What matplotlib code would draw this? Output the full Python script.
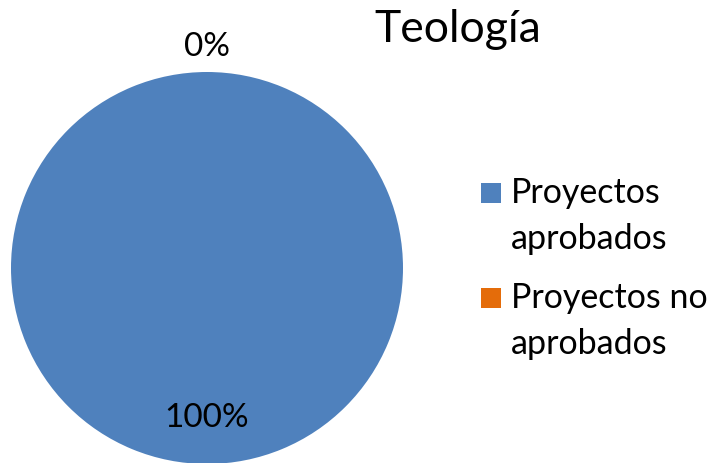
import matplotlib
matplotlib.use("Agg")
import matplotlib.pyplot as plt
from matplotlib.patches import Rectangle
import numpy as np

categories = ["Proyectos aprobados", "Proyectos no aprobados"]
legend_labels = ["Proyectos\naprobados", "Proyectos no\naprobados"]
values = [100, 0]
pct_labels = ["100%", "0%"]
colors = ["#4F81BD", "#E46C0A"]
title = "Teología"

plt.rcParams['font.family'] = ['Lato', 'DejaVu Sans']

W, H = 711, 463
fig = plt.figure(figsize=(W / 100, H / 100), dpi=100)
fig.patch.set_facecolor("white")

cx, cy, r = 207, 268, 196
ax = fig.add_axes([(cx - r) / W, (H - cy - r) / H, 2 * r / W, 2 * r / H])
ax.pie(values, colors=colors, startangle=90, counterclock=False, radius=1,
       wedgeprops=dict(linewidth=0))
ax.set_xlim(-1, 1)
ax.set_ylim(-1, 1)
ax.set_aspect("equal")
ax.axis("off")

total = sum(values)
start = 90.0
for v, lab in zip(values, pct_labels):
    sweep = 360.0 * v / total
    mid = np.deg2rad(start - sweep / 2)
    rad = 0.765 if v > 0 else 1.125
    ax.text(rad * np.cos(mid), rad * np.sin(mid), lab, ha="center", va="center",
            fontsize=24, color="black", clip_on=False)
    start -= sweep

fig.text(458 / W, 1 - 30 / H, title, ha="center", va="center", fontsize=32)

# legend
ys = [193, 298]
for lab, col, y in zip(legend_labels, colors, ys):
    fig.patches.append(Rectangle((481 / W, 1 - (y + 10) / H), 20 / W, 20 / H,
                                 transform=fig.transFigure, facecolor=col,
                                 edgecolor="none"))
    fig.text(511 / W, 1 - (y - 16) / H, lab, ha="left", va="top", fontsize=24.5,
             linespacing=1.55)

fig.savefig("out.png", dpi=100)
